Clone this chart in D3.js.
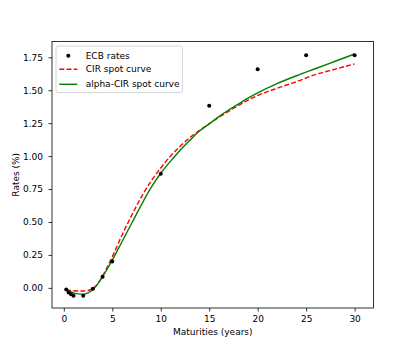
<!DOCTYPE html>
<html>
<head>
<meta charset="utf-8">
<script src="https://cdn.jsdelivr.net/npm/d3@7"></script>
<style>
  body { margin: 0; background: #fff; }
  text { font-family: "DejaVu Sans", sans-serif; fill: #000; }
</style>
</head>
<body>
<svg></svg>
<script>
// chart size
var width = 415;
var height = 346;
var margin = {left: 52, right: 41.5, top: 41.5, bottom: 38};

// ECB rates (maturity in years, rate in %)
var ecbMaturities = [0.25, 0.5, 0.75, 1, 2, 3, 4, 5, 10, 15, 20, 25, 30];
var ecbRates = [-0.012, -0.035, -0.048, -0.06, -0.06, -0.006, 0.085, 0.2, 0.866, 1.382, 1.66, 1.765, 1.765];

// spot curves
var curveMaturities = [0.25, 0.5, 1, 1.5, 2, 2.5, 3, 3.5, 4, 4.5, 5, 6, 7, 8, 9, 10, 11, 12, 13, 14, 15, 16, 17, 18, 19, 20, 22, 24, 26, 28, 30];
var cirRates = [-0.01, -0.018, -0.022, -0.024, -0.024, -0.02, -0.005, 0.03, 0.09, 0.16, 0.235, 0.4, 0.55, 0.69, 0.81, 0.91, 1.0, 1.075, 1.14, 1.195, 1.245, 1.295, 1.34, 1.385, 1.425, 1.46, 1.515, 1.565, 1.62, 1.66, 1.70];
var alphaCirRates = [-0.01, -0.022, -0.038, -0.046, -0.048, -0.038, -0.012, 0.03, 0.085, 0.145, 0.21, 0.35, 0.49, 0.63, 0.76, 0.87, 0.96, 1.045, 1.12, 1.19, 1.245, 1.3, 1.35, 1.395, 1.44, 1.48, 1.55, 1.61, 1.665, 1.72, 1.775];

var xTicks = [0, 5, 10, 15, 20, 25, 30];
var yTicks = [0, 0.25, 0.5, 0.75, 1, 1.25, 1.5, 1.75];

var legendLabels = ["ECB rates", "CIR spot curve", "alpha-CIR spot curve"];

var svg = d3.select("svg")
    .attr("width", width)
    .attr("height", height);

var x = d3.scaleLinear()
    .domain([-1.22, 31.95])
    .range([margin.left, width - margin.right]);

var y = d3.scaleLinear()
    .domain([-0.153, 1.870])
    .range([height - margin.bottom, margin.top]);

// axes
var xAxis = svg.append("g")
    .attr("transform", "translate(0," + (height - margin.bottom) + ")")
    .call(d3.axisBottom(x).tickValues(xTicks).tickSize(3.5).tickPadding(4.5).tickFormat(d3.format("d")));

var yAxis = svg.append("g")
    .attr("transform", "translate(" + margin.left + ",0)")
    .call(d3.axisLeft(y).tickValues(yTicks).tickSize(3.5).tickPadding(5.5).tickFormat(d3.format(".2f")));

[xAxis, yAxis].forEach(function(g) {
    g.select(".domain").remove();
    g.selectAll("line").attr("stroke", "#000").attr("stroke-width", 0.8);
    g.selectAll("text").style("font-size", "9px").attr("fill", "#000");
});

// lines
var line = d3.line()
    .x(function(d) { return x(d[0]); })
    .y(function(d) { return y(d[1]); })
    .curve(d3.curveMonotoneX);

svg.append("path")
    .datum(curveMaturities.map(function(t, i) { return [t, cirRates[i]]; }))
    .attr("d", line)
    .attr("fill", "none")
    .attr("stroke", "red")
    .attr("stroke-width", 1.4)
    .attr("stroke-dasharray", "5,2.2");

svg.append("path")
    .datum(curveMaturities.map(function(t, i) { return [t, alphaCirRates[i]]; }))
    .attr("d", line)
    .attr("fill", "none")
    .attr("stroke", "green")
    .attr("stroke-width", 1.4);

// points
svg.selectAll("circle.ecb")
    .data(ecbMaturities.map(function(t, i) { return [t, ecbRates[i]]; }))
    .enter().append("circle")
    .attr("class", "ecb")
    .attr("cx", function(d) { return x(d[0]); })
    .attr("cy", function(d) { return y(d[1]); })
    .attr("r", 2)
    .attr("fill", "#000");

// frame
svg.append("rect")
    .attr("x", margin.left)
    .attr("y", margin.top)
    .attr("width", width - margin.left - margin.right)
    .attr("height", height - margin.top - margin.bottom)
    .attr("fill", "none")
    .attr("stroke", "#000")
    .attr("stroke-width", 0.8);

// axis labels
svg.append("text")
    .attr("x", (margin.left + width - margin.right) / 2)
    .attr("y", 335)
    .attr("text-anchor", "middle")
    .style("font-size", "9px")
    .text("Maturities (years)");

svg.append("text")
    .attr("transform", "translate(19," + ((margin.top + height - margin.bottom) / 2) + ") rotate(-90)")
    .attr("text-anchor", "middle")
    .style("font-size", "9px")
    .text("Rates (%)");

// legend
var legend = svg.append("g")
    .attr("transform", "translate(56,46)");

legend.append("rect")
    .attr("width", 126.5)
    .attr("height", 46.5)
    .attr("rx", 2)
    .attr("fill", "#fff")
    .attr("fill-opacity", 0.8)
    .attr("stroke", "#ccc")
    .attr("stroke-width", 0.8);

var rowY = [9.7, 23.3, 38.3];

legend.append("circle")
    .attr("cx", 12.3)
    .attr("cy", rowY[0])
    .attr("r", 2)
    .attr("fill", "#000");

legend.append("line")
    .attr("x1", 3.3).attr("x2", 21.3)
    .attr("y1", rowY[1]).attr("y2", rowY[1])
    .attr("stroke", "red")
    .attr("stroke-width", 1.4)
    .attr("stroke-dasharray", "5,2.2");

legend.append("line")
    .attr("x1", 3.3).attr("x2", 21.3)
    .attr("y1", rowY[2]).attr("y2", rowY[2])
    .attr("stroke", "green")
    .attr("stroke-width", 1.4);

legend.selectAll("text.label")
    .data(legendLabels)
    .enter().append("text")
    .attr("class", "label")
    .attr("x", 29.7)
    .attr("y", function(d, i) { return rowY[i]; })
    .attr("dy", "0.35em")
    .style("font-size", "9px")
    .text(function(d) { return d; });
</script>
</body>
</html>
